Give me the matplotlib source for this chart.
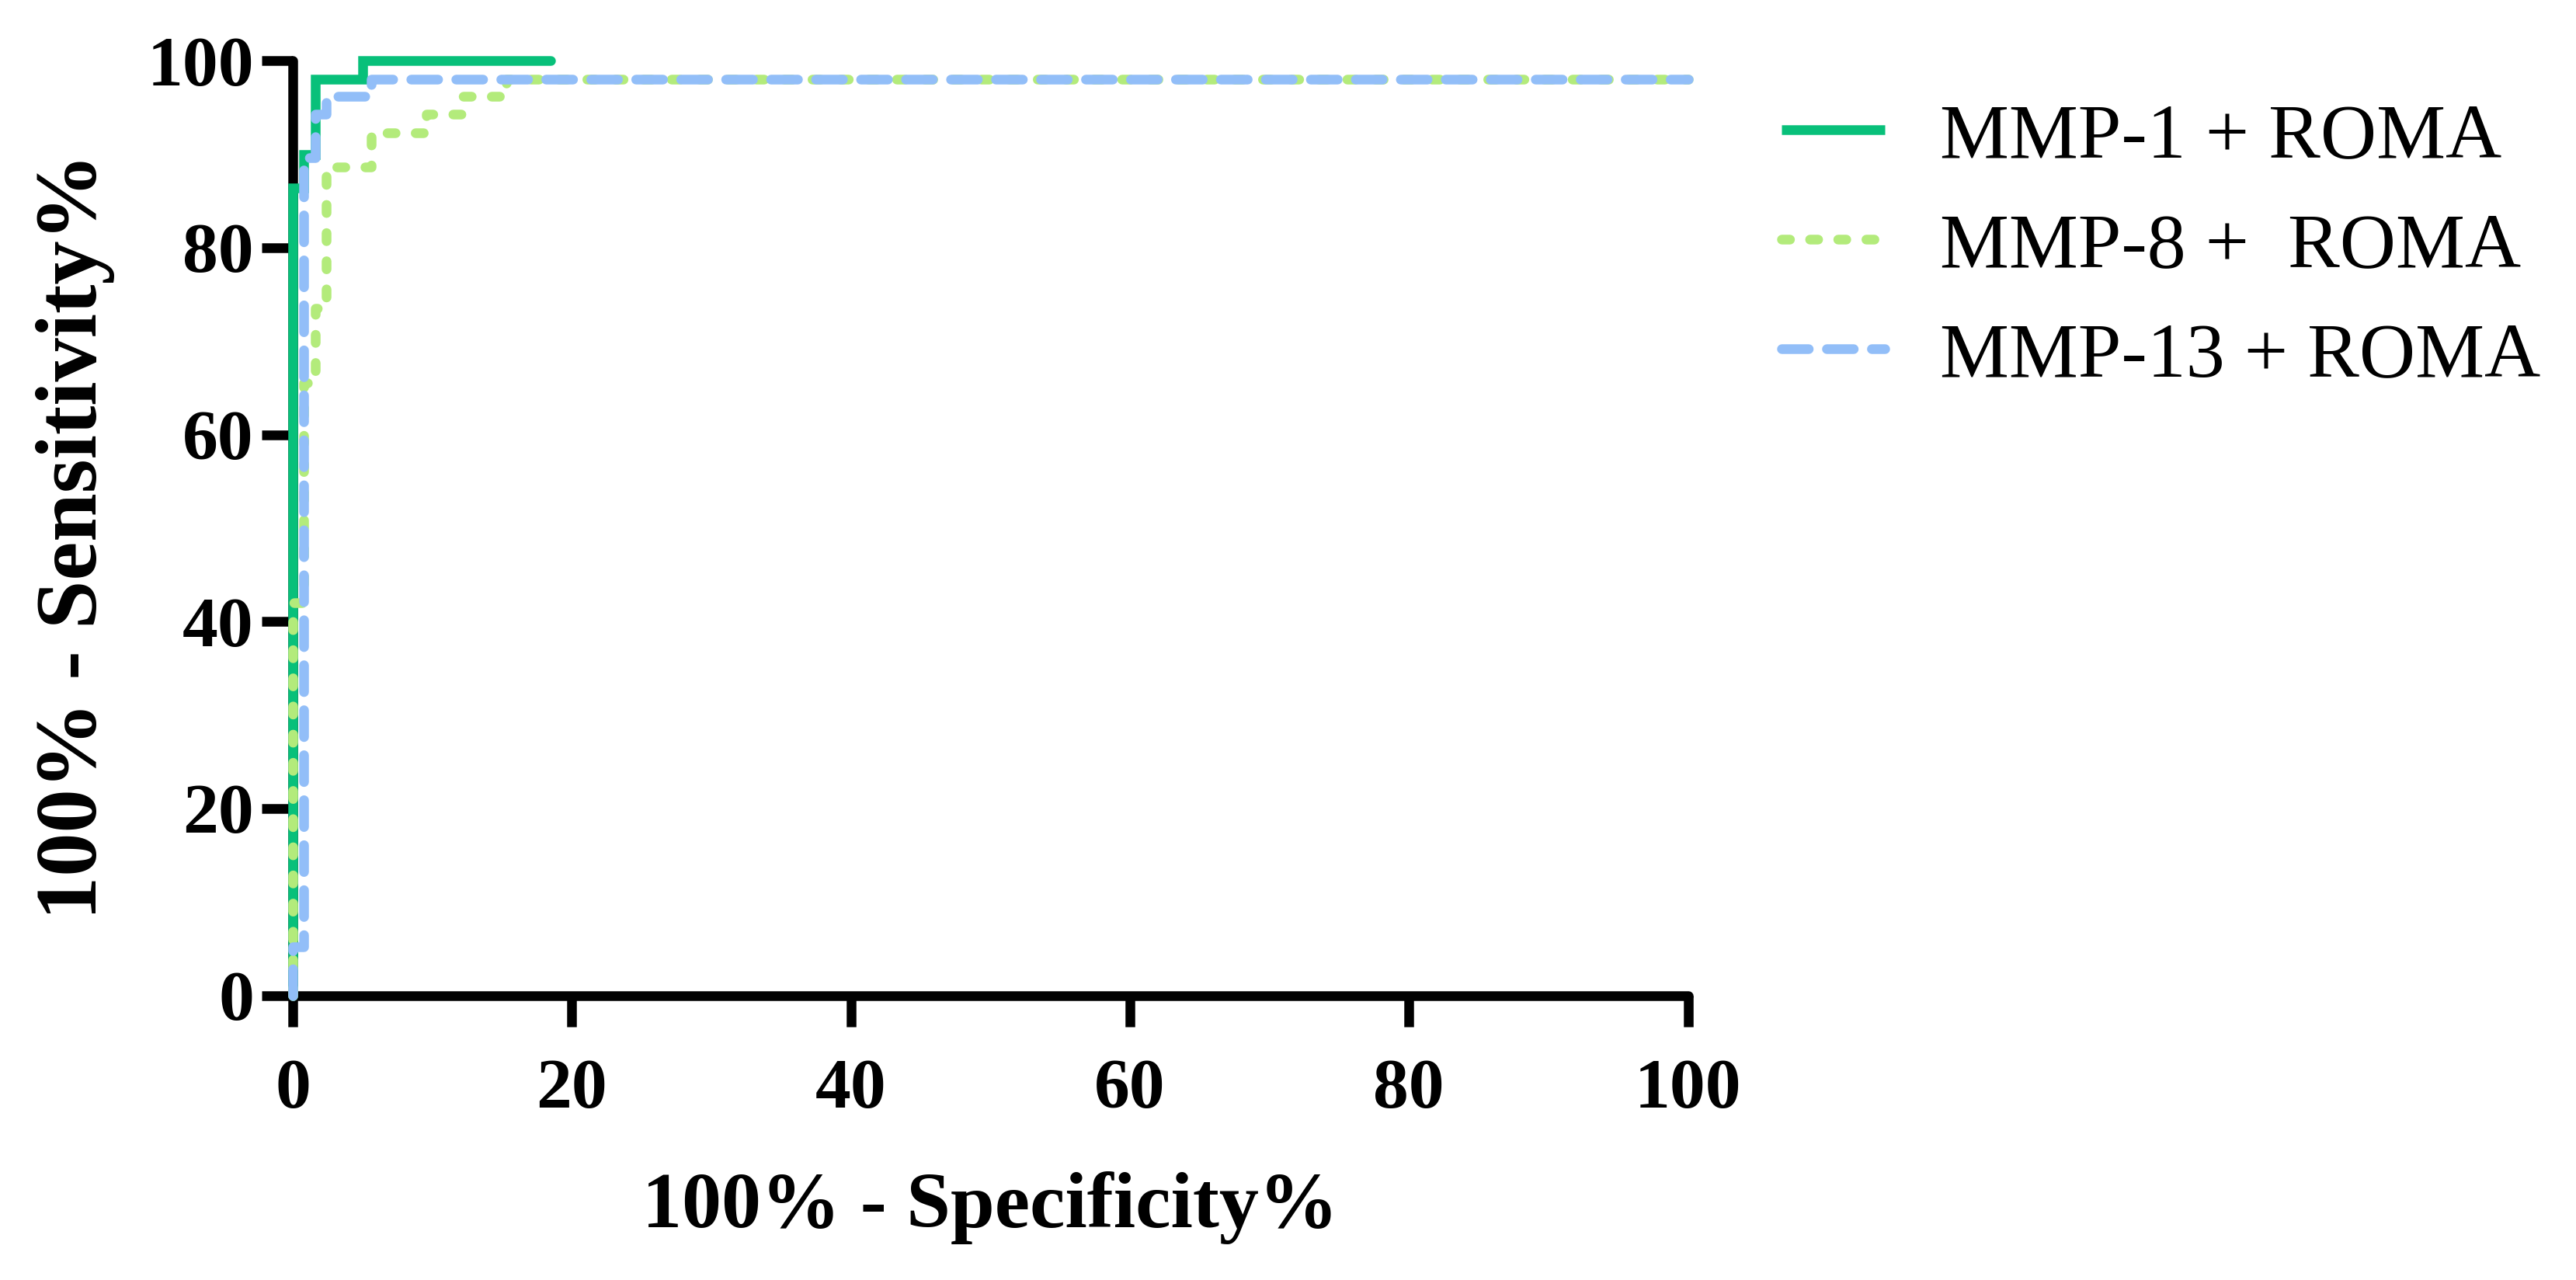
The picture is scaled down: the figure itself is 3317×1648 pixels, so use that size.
import matplotlib
matplotlib.use("Agg")
import matplotlib.pyplot as plt

# ---- data ----
labels = ["MMP-1 + ROMA", "MMP-8 +  ROMA", "MMP-13 + ROMA"]

mmp1_x = [0, 0, 0.8, 0.8, 1.6, 1.6, 5.0, 5.0, 18.5]
mmp1_y = [0, 86.4, 86.4, 90.0, 90.0, 98.0, 98.0, 100, 100]

mmp8_x = [0, 0, 0.8, 0.8, 1.6, 1.6, 2.4, 2.4, 5.6, 5.6, 9.6, 9.6, 12.1, 12.1, 15.3, 15.3, 100]
mmp8_y = [0, 42.0, 42.0, 65.5, 65.5, 73.5, 73.5, 88.6, 88.6, 92.3, 92.3, 94.3, 94.3, 96.2, 96.2, 98.0, 98.0]

mmp13_x = [0, 0, 0.8, 0.8, 1.6, 1.6, 2.4, 2.4, 5.6, 5.6, 100]
mmp13_y = [0, 5.2, 5.2, 89.6, 89.6, 94.3, 94.3, 96.2, 96.2, 98.0, 98.0]

xticks = [0, 20, 40, 60, 80, 100]
yticks = [0, 20, 40, 60, 80, 100]
xlabel = "100% - Specificity%"
ylabel = "100% - Sensitivity%"

# ---- styles ----
c_green = "#08C07A"
c_lgreen = "#B3EB7B"
c_blue = "#92BEF8"
plt.rcParams["lines.scale_dashes"] = False
serif = ["Liberation Serif", "DejaVu Serif"]

W, H, DPI = 3317, 1648, 300
fig = plt.figure(figsize=(W / DPI, H / DPI), dpi=DPI)
left, right = 377 / W, 2173.5 / W
bottom, top = 1 - 1281.5 / H, 1 - 78.3 / H
ax = fig.add_axes([left, bottom, right - left, top - bottom])

lw = 3.0
l1, = ax.plot(mmp1_x, mmp1_y, color=c_green, lw=lw, solid_capstyle="round",
              solid_joinstyle="miter", clip_on=False, zorder=3, label=labels[0])
l2, = ax.plot(mmp8_x, mmp8_y, color=c_lgreen, lw=lw, dashes=(2.5, 6.2),
              dash_capstyle="round", clip_on=False, zorder=3.1, label=labels[1])
l3, = ax.plot(mmp13_x, mmp13_y, color=c_blue, lw=lw, dashes=(8.3, 5.6),
              dash_capstyle="round", clip_on=False, zorder=3.2, label=labels[2])

ax.set_xlim(0, 100)
ax.set_ylim(0, 100)
ax.set_xticks(xticks)
ax.set_yticks(yticks)
for s in ["top", "right"]:
    ax.spines[s].set_visible(False)
for s in ["left", "bottom"]:
    ax.spines[s].set_linewidth(3)
    ax.spines[s].set_capstyle("round")

ax.tick_params(axis="both", length=9.6, width=3, direction="out", color="black")
ax.tick_params(axis="x", pad=10)
ax.tick_params(axis="y", pad=2.4)
for t in ax.get_xticklabels() + ax.get_yticklabels():
    t.set_fontfamily(serif)
    t.set_fontweight("bold")
    t.set_fontsize(22)

ax.set_xlabel(xlabel, fontfamily=serif, fontweight="bold", fontsize=24.5)
ax.xaxis.set_label_coords(0.5, -0.248)
ax.xaxis.label.set_verticalalignment("baseline")

ax.set_ylabel(ylabel, fontfamily=serif, fontweight="bold", fontsize=27)
ax.yaxis.set_label_coords(-0.1275, 0.491)

leg = fig.legend(handles=[l1, l2, l3], loc="upper left",
                 bbox_to_anchor=(2294 / W, 1 - 132 / H), frameon=False,
                 prop={"family": serif, "size": 24}, borderpad=0, borderaxespad=0,
                 handlelength=1.33, handletextpad=0.71, labelspacing=0.5)
for h in leg.get_lines():
    h.set_solid_capstyle("butt")

fig.savefig("out.png", dpi=DPI)
